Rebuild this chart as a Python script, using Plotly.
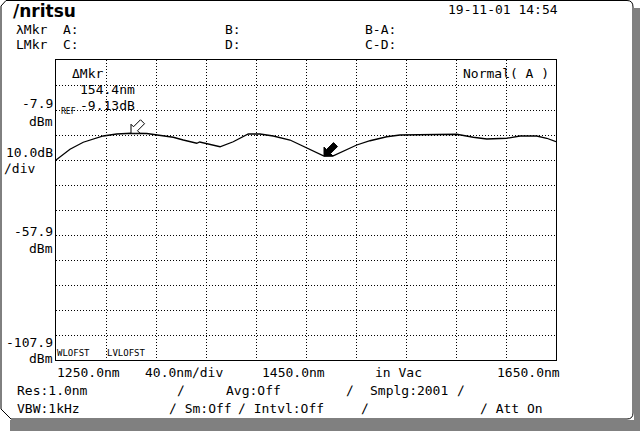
import plotly.graph_objects as go

# ---- data ----
wavelength_nm = [1250.0, 1261.2, 1271.8, 1287.8, 1298.6, 1310.0, 1322.6, 1330.6, 1343.8, 1351.8,
                 1362.6, 1365.0, 1367.6, 1370.8, 1381.2, 1391.8, 1403.8, 1413.2, 1423.8, 1437.2,
                 1450.6, 1464.4, 1471.8, 1490.6, 1501.2, 1514.6, 1525.2, 1549.2, 1570.6, 1583.8,
                 1594.6, 1610.6, 1621.2, 1634.6, 1642.6, 1650.0]
level_dbm = [-27.9, -23.6, -20.8, -18.3, -17.5, -17.2, -17.3, -17.8, -18.8, -19.9,
             -21.2, -20.7, -21.0, -21.4, -22.6, -20.6, -17.5, -17.5, -18.3, -19.9,
             -23.2, -26.33, -26.2, -21.9, -20.2, -18.6, -17.9, -17.6, -17.6, -18.8,
             -19.5, -19.2, -18.3, -18.3, -19.2, -20.6]
marker_a = (1310.0, -17.2)      # hollow marker
marker_b = (1464.4, -26.33)     # filled marker
x_range = [1250.0, 1650.0]
y_ref = -7.9
y_div = 10.0
y_range = [-107.9, 12.1]

W, H = 640, 431
L, T, R, B = 56, 60, 556, 360


def px(x):
    return (x - L) / (R - L)


def py(y):
    return (B - y) / (B - T)


FONT = "DejaVu Sans Mono"

fig = go.Figure()
fig.add_trace(go.Scatter(x=wavelength_nm, y=level_dbm, mode="lines",
                         line=dict(color="black", width=1.3), hoverinfo="skip",
                         showlegend=False))

fig.update_layout(
    width=W, height=H,
    margin=dict(l=L, r=W - R, t=T, b=H - B, pad=0),
    paper_bgcolor="white", plot_bgcolor="white",
    showlegend=False,
    xaxis=dict(range=x_range, dtick=40, tick0=1250, showticklabels=False, ticks="",
               showgrid=True, gridcolor="black", gridwidth=1, griddash="1px,2px",
               zeroline=False, showline=True, linecolor="black", linewidth=1, mirror=True,
               fixedrange=True),
    yaxis=dict(range=y_range, dtick=y_div, tick0=y_ref, showticklabels=False, ticks="",
               showgrid=True, gridcolor="black", gridwidth=1, griddash="1px,2px",
               zeroline=False, showline=True, linecolor="black", linewidth=1, mirror=True,
               fixedrange=True),
)

shapes = []
# outer frame
frame = (f"M {px(1)},{py(6)} L {px(6)},{py(0.5)} L {px(627)},{py(0.5)} "
         f"Q {px(633)},{py(0.5)} {px(633)},{py(7)} L {px(633)},{py(413)} "
         f"Q {px(633)},{py(419)} {px(627)},{py(419)} L {px(11)},{py(419)} "
         f"L {px(1)},{py(409)} Z")
shapes.append(dict(type="path", xref="paper", yref="paper", path=frame,
                   line=dict(color="black", width=1), fillcolor="rgba(0,0,0,0)", layer="below"))
# shadow bands
shapes.append(dict(type="rect", xref="paper", yref="paper", x0=px(634), x1=px(640),
                   y0=py(8), y1=py(431), line=dict(width=0), fillcolor="#808080"))
shapes.append(dict(type="rect", xref="paper", yref="paper", x0=px(10), x1=px(640),
                   y0=py(420), y1=py(431), line=dict(width=0), fillcolor="#808080"))

# marker arrows (pixel offsets from the marker point)
arrow = "M 0,0 L 0,9 L 2.5,6.5 L 9.5,13.5 L 13.5,9.5 L 6.5,2.5 L 9,0 Z"
for (mx, my), fill in ((marker_a, "white"), (marker_b, "black")):
    shapes.append(dict(type="path", xref="x", yref="y", xsizemode="pixel", ysizemode="pixel",
                       xanchor=mx, yanchor=my, path=arrow,
                       line=dict(color="black", width=1), fillcolor=fill))
fig.update_layout(shapes=shapes)


def txt(x, y, s, anchor="left", size=13, bold=False):
    fig.add_annotation(x=px(x), y=py(y), xref="paper", yref="paper", text=s,
                       showarrow=False, xanchor=anchor, yanchor="middle",
                       font=dict(family=FONT, size=size, color="black"),
                       borderpad=0, **({} if not bold else {}))


# header
fig.add_annotation(x=px(11), y=py(11), xref="paper", yref="paper", text="<b>/nritsu</b>",
                   showarrow=False, xanchor="left", yanchor="middle",
                   font=dict(family="DejaVu Sans", size=17, color="black"))
txt(447, 10, "19-11-01 14:54")
txt(15, 29, "λMkr")
txt(62, 29, "A:")
txt(224, 29, "B:")
txt(364, 29, "B-A:")
txt(15, 45, "LMkr")
txt(62, 45, "C:")
txt(224, 45, "D:")
txt(364, 45, "C-D:")

# inside plot
txt(71, 73, "ΔMkr")
txt(79, 89, "154.4nm")
txt(79, 105, "-9.13dB")
txt(60, 111, "REF", size=8)
txt(462, 73, "Normal( A )")
txt(56, 353, "WLOFST", size=9)
txt(106, 353, "LVLOFST", size=9)

# left scale
txt(54, 104, "-7.9", anchor="right")
txt(54, 121, "dBm", anchor="right")
txt(54, 152, "10.0dB", anchor="right")
txt(3, 168, "∕div")
txt(54, 231, "-57.9", anchor="right")
txt(54, 248, "dBm", anchor="right")
txt(54, 342, "-107.9", anchor="right")
txt(54, 358, "dBm", anchor="right")

# bottom scale
txt(56, 372, "1250.0nm")
txt(144, 372, "40.0nm∕div")
txt(261, 372, "1450.0nm")
txt(374, 372, "in Vac")
txt(496, 372, "1650.0nm")

# settings
txt(16, 390, "Res:1.0nm")
txt(176, 390, "∕")
txt(225, 390, "Avg:Off")
txt(345, 390, "∕")
txt(369, 390, "Smplg:2001")
txt(456, 390, "∕")
txt(16, 408, "VBW:1kHz")
txt(168, 408, "∕ Sm:Off")
txt(237, 408, "∕ Intvl:Off")
txt(360, 408, "∕")
txt(479, 408, "∕ Att On")

fig.write_html("out.html")
